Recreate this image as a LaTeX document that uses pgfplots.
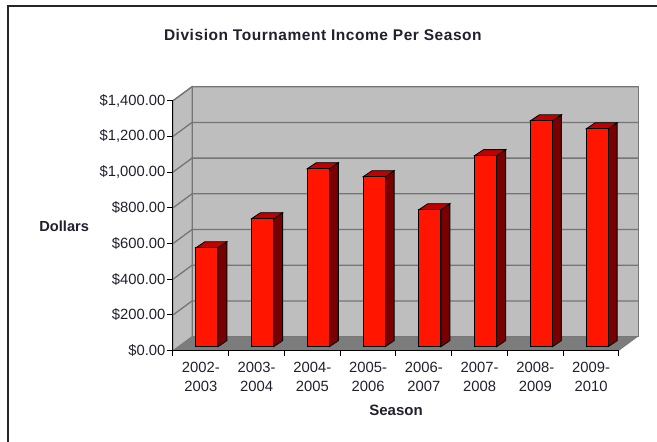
\documentclass[border=0pt]{standalone}
\usepackage{pgfplots}
\pgfplotsset{compat=1.18}
\usepackage{fontspec}
\setmainfont{Liberation Sans}
\definecolor{wallc}{HTML}{BEBEBE}
\definecolor{floorc}{HTML}{7C7C7C}
\definecolor{gridc}{HTML}{757575}
\definecolor{barf}{HTML}{FF1500}
\definecolor{bars}{HTML}{780000}
\definecolor{bart}{HTML}{C20000}
\definecolor{txt}{HTML}{20202E}
\newcommand{\sz}{\fontsize{14.8}{19}\selectfont}
\begin{document}
\begin{tikzpicture}[x=1pt,y=1pt]
\useasboundingbox (-173,-91.3) rectangle (484,350.7);
\draw[line width=1.2pt,black!85] (-165,-91.3) -- (-165,344.7) -- (484,344.7);
\begin{axis}[
  at={(0,0)}, anchor=origin,
  scale only axis, width=446pt, height=250pt,
  xmin=0, xmax=8, ymin=0, ymax=1400,
  clip=false, axis on top,
  axis lines=left, axis line style={-, line width=1pt, black},
  tick align=outside,
  ytick={0,200,...,1400},
  yticklabels={{\$0.00},{\$200.00},{\$400.00},{\$600.00},{\$800.00},{\$1,000.00},{\$1,200.00},{\$1,400.00}},
  xtick={0.5,1.5,...,7.5},
  xticklabels={2002-\\2003,2003-\\2004,2004-\\2005,2005-\\2006,2006-\\2007,2007-\\2008,2008-\\2009,2009-\\2010},
  minor xtick={0,1,...,8},
  major x tick style={draw=none},
  minor x tick style={line width=1pt, black},
  y tick style={line width=1pt, black},
  major tick length=6pt, minor tick length=5pt,
  xticklabel style={align=center, font=\sz, text=txt, yshift=-2pt},
  yticklabel style={font=\sz, text=txt, xshift=2pt},
  title={\bfseries\addfontfeature{LetterSpace=3.5}Division Tournament Income Per Season},
  title style={at={(axis description cs:0.336,1.238)}, anchor=center, font=\fontsize{15.5}{17}\selectfont, text=txt},
  xlabel={\bfseries Season},
  xlabel style={at={(axis description cs:0.5,-0.24)}, anchor=center, font=\fontsize{15}{17}\selectfont, text=txt},
  ylabel={\bfseries Dollars},
  ylabel style={at={(axis description cs:-0.244,0.496)}, anchor=center, rotate=-90, font=\fontsize{14.6}{17}\selectfont, text=txt},
]
% walls and floor
\addplot[fill=wallc, draw=gridc, line width=1pt] coordinates {(0,0)(0.341,78.4)(0.341,1478.4)(0,1400)} -- cycle;
\addplot[fill=wallc, draw=gridc, line width=1pt] coordinates {(0.341,78.4)(8.341,78.4)(8.341,1478.4)(0.341,1478.4)} -- cycle;
\addplot[fill=floorc, draw=none] coordinates {(0,0)(8,0)(8.341,78.4)(0.341,78.4)} -- cycle;
% gridlines
\addplot[gridc, line width=1.3pt] coordinates {(0,200)(0.341,278.4)(8.341,278.4)};
\addplot[gridc, line width=1.3pt] coordinates {(0,400)(0.341,478.4)(8.341,478.4)};
\addplot[gridc, line width=1.3pt] coordinates {(0,600)(0.341,678.4)(8.341,678.4)};
\addplot[gridc, line width=1.3pt] coordinates {(0,800)(0.341,878.4)(8.341,878.4)};
\addplot[gridc, line width=1.3pt] coordinates {(0,1000)(0.341,1078.4)(8.341,1078.4)};
\addplot[gridc, line width=1.3pt] coordinates {(0,1200)(0.341,1278.4)(8.341,1278.4)};
\addplot[gridc, line width=1.3pt] coordinates {(0,1400)(0.341,1478.4)(8.341,1478.4)};
% bar sides
\addplot[fill=bars, draw=black, line width=0.8pt] coordinates {(0.805,22.4)(0.966,56)(0.966,610)(0.805,576.4)} -- cycle;
\addplot[fill=bars, draw=black, line width=0.8pt] coordinates {(1.805,22.4)(1.966,56)(1.966,773)(1.805,739.4)} -- cycle;
\addplot[fill=bars, draw=black, line width=0.8pt] coordinates {(2.805,22.4)(2.966,56)(2.966,1053)(2.805,1019.4)} -- cycle;
\addplot[fill=bars, draw=black, line width=0.8pt] coordinates {(3.805,22.4)(3.966,56)(3.966,1008)(3.805,974.4)} -- cycle;
\addplot[fill=bars, draw=black, line width=0.8pt] coordinates {(4.805,22.4)(4.966,56)(4.966,823)(4.805,789.4)} -- cycle;
\addplot[fill=bars, draw=black, line width=0.8pt] coordinates {(5.805,22.4)(5.966,56)(5.966,1126)(5.805,1092.4)} -- cycle;
\addplot[fill=bars, draw=black, line width=0.8pt] coordinates {(6.805,22.4)(6.966,56)(6.966,1321)(6.805,1287.4)} -- cycle;
\addplot[fill=bars, draw=black, line width=0.8pt] coordinates {(7.805,22.4)(7.966,56)(7.966,1276)(7.805,1242.4)} -- cycle;
% bar tops
\addplot[fill=bart, draw=black, line width=0.8pt] coordinates {(0.41,576.4)(0.571,610)(0.966,610)(0.805,576.4)} -- cycle;
\addplot[fill=bart, draw=black, line width=0.8pt] coordinates {(1.41,739.4)(1.571,773)(1.966,773)(1.805,739.4)} -- cycle;
\addplot[fill=bart, draw=black, line width=0.8pt] coordinates {(2.41,1019.4)(2.571,1053)(2.966,1053)(2.805,1019.4)} -- cycle;
\addplot[fill=bart, draw=black, line width=0.8pt] coordinates {(3.41,974.4)(3.571,1008)(3.966,1008)(3.805,974.4)} -- cycle;
\addplot[fill=bart, draw=black, line width=0.8pt] coordinates {(4.41,789.4)(4.571,823)(4.966,823)(4.805,789.4)} -- cycle;
\addplot[fill=bart, draw=black, line width=0.8pt] coordinates {(5.41,1092.4)(5.571,1126)(5.966,1126)(5.805,1092.4)} -- cycle;
\addplot[fill=bart, draw=black, line width=0.8pt] coordinates {(6.41,1287.4)(6.571,1321)(6.966,1321)(6.805,1287.4)} -- cycle;
\addplot[fill=bart, draw=black, line width=0.8pt] coordinates {(7.41,1242.4)(7.571,1276)(7.966,1276)(7.805,1242.4)} -- cycle;
% bar fronts
\addplot[ybar, bar width=22pt, bar shift=6pt, yshift=4pt, fill=barf, draw=black, line width=1pt] coordinates {
(0.5,554)(1.5,717)(2.5,997)(3.5,952)(4.5,767)(5.5,1070)(6.5,1265)(7.5,1220)};
\end{axis}
\end{tikzpicture}
\end{document}
